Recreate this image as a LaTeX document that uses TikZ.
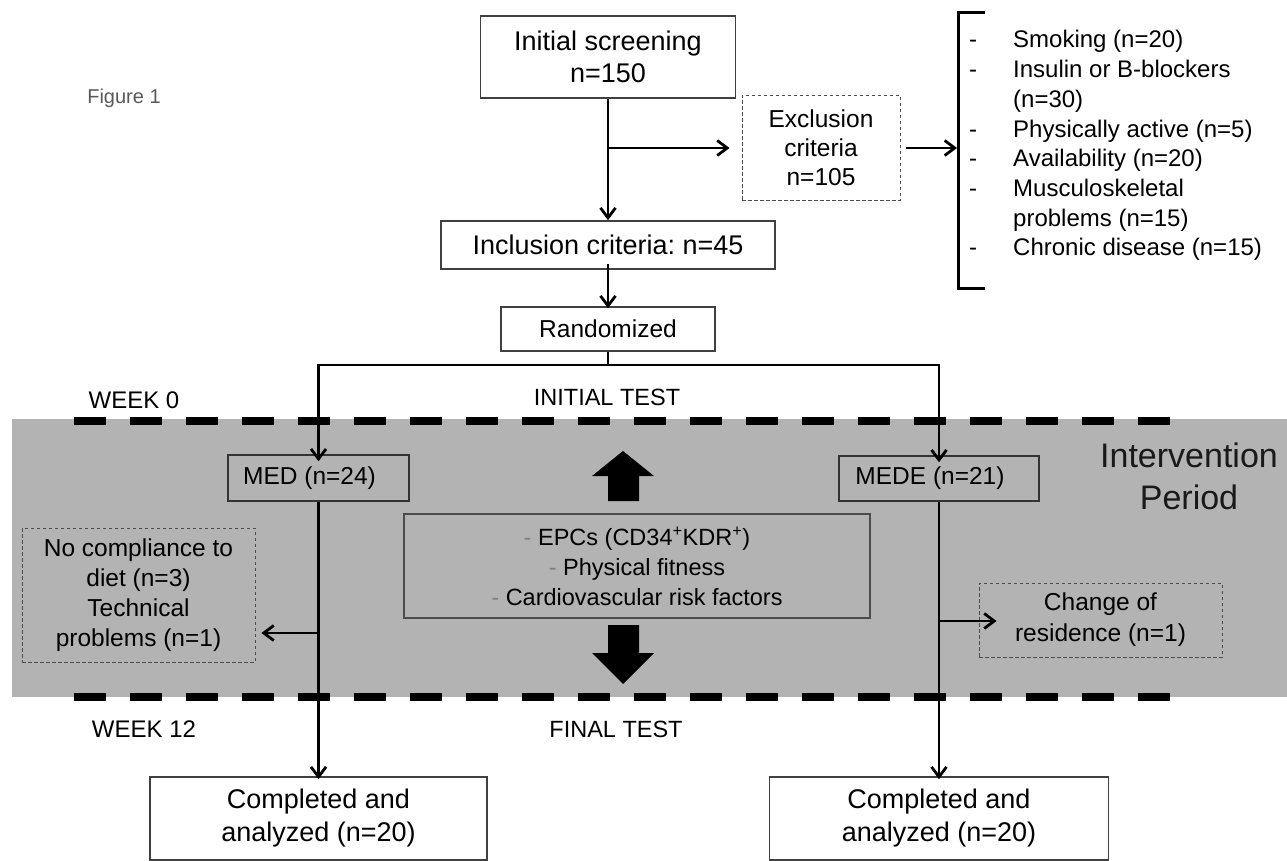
\documentclass[tikz,border=0pt]{standalone}
\usepackage{fontspec}
\setmainfont{Liberation Sans}
\usetikzlibrary{arrows.meta,calc}
\definecolor{graybg}{RGB}{179,179,179}
\frenchspacing
\begin{document}
\begin{tikzpicture}[x=1pt,y=-1pt,
  box/.style={draw=black!75, line width=1.6pt, fill=white, align=center, inner sep=0pt},
  gbox/.style={draw=black!80, line width=1.5pt, align=center, inner sep=0pt},
  dbox/.style={draw=black!70, line width=0.9pt, dash pattern=on 3.5pt off 2.5pt, align=center, inner sep=0pt},
  conn/.style={line width=2.8pt, -{Straight Barb[length=10pt,width=15pt]}},
  plainline/.style={line width=2.8pt},
  bigtxt/.style={font=\fontsize{27}{32}\selectfont},
  medtxt/.style={font=\fontsize{24.5}{30}\selectfont},
  wkline/.style={line width=8pt, dash pattern=on 32pt off 24pt},
  lbl/.style={font=\fontsize{24}{28}\selectfont, inner sep=0pt}
]
\useasboundingbox (0,0) rectangle (1287,861);
\fill[white] (0,0) rectangle (1287,861);
\fill[graybg] (12,419) rectangle (1287,697);
\draw[wkline] (74,421) -- (1172,421);
\draw[wkline] (74,697) -- (1172,697);

% texts
\node[text=black!65, font=\fontsize{20}{24}\selectfont] (fig) at (124,98) {Figure 1};
\node[lbl] (w0) at (134,400) {WEEK 0};
\node[lbl] (w12) at (144,729) {WEEK 12};
\node[lbl, font=\fontsize{23.5}{28}\selectfont] (it) at (607,397) {INITIAL TEST};
\node[lbl, font=\fontsize{23.5}{28}\selectfont] (ft) at (616,729) {FINAL TEST};
\node[font=\fontsize{34}{42}\selectfont, align=center, text=black!90] (iv) at (1189,476) {Intervention\\Period};

% boxes
\node[box, bigtxt, minimum width=255pt, minimum height=82pt] (init) at (608,57) {Initial screening\\n=150};
\node[box, bigtxt, minimum width=334pt, minimum height=48pt] (incl) at (608,245) {Inclusion criteria: n=45};
\node[dbox, medtxt, font=\fontsize{24.5}{29}\selectfont, minimum width=158pt, minimum height=105pt] (excl) at (821,148) {Exclusion\\criteria\\n=105};
\node[box, medtxt, minimum width=214pt, minimum height=44pt] (rand) at (608,329) {Randomized};
\node[gbox, medtxt, minimum width=181pt, minimum height=46pt] (med) at (318.5,478) {MED (n=24)\hspace*{18pt}};
\node[gbox, medtxt, minimum width=200pt, minimum height=45pt] (mede) at (939,478.5) {MEDE (n=21)\hspace*{18pt}};
\node[gbox, draw=black!70, font=\fontsize{23.5}{30}\selectfont, minimum width=466pt, minimum height=104pt] (epc) at (637,566)
  {{\color{black!50}-} EPCs (CD34\textsuperscript{+}KDR\textsuperscript{+})\\{\color{black!50}-} Physical fitness\\{\color{black!50}-} Cardiovascular risk factors};
\node[dbox, medtxt, minimum width=233pt, minimum height=134pt] (nocomp) at (138.5,595) {No compliance to\\diet (n=3)\\Technical\\problems (n=1)};
\node[dbox, medtxt, font=\fontsize{24.5}{31}\selectfont, minimum width=243pt, minimum height=74pt] (chg) at (1100.5,620) {Change of\\residence (n=1)};
\node[box, bigtxt, font=\fontsize{27}{33}\selectfont, minimum width=337pt, minimum height=83pt] (compl) at (318.5,818.5) {Completed and\\analyzed (n=20)};
\node[box, bigtxt, font=\fontsize{27}{33}\selectfont, minimum width=339pt, minimum height=83pt] (compr) at (939,818.5) {Completed and\\analyzed (n=20)};

% exclusion list
\node[anchor=west, inner sep=0pt, font=\fontsize{24}{29.7}\selectfont] (list) at (969,146)
{\begin{tabular}{@{}l@{\hspace{36pt}}l@{}}
- & Smoking (n=20)\\
- & Insulin or B-blockers\\
  & (n=30)\\
- & Physically active (n=5)\\
- & Availability (n=20)\\
- & Musculoskeletal\\
  & problems (n=15)\\
- & Chronic disease (n=15)
\end{tabular}};
\draw[line width=3pt] (985,13) -- (958,13) -- (958,288) -- (985,288);
\coordinate (brk) at (957,148);

% fat arrows
\fill[black] (623,451) -- (654,476) -- (639,476) -- (639,501) -- (608,501) -- (608,476) -- (592,476) -- cycle;
\fill[black] (608,625) -- (639,625) -- (639,653) -- (654,653) -- (623,684) -- (592,653) -- (608,653) -- cycle;

% connectors
\draw[conn] (init.south) -- (incl.north);
\coordinate (b1) at (608,148);
\draw[conn] (b1) -- ([xshift=-12pt]excl.west);
\draw[conn] ([xshift=6pt]excl.east) -- (brk);
\draw[conn] ([yshift=6pt]incl.south) -- ([yshift=-2pt]rand.north);
\coordinate (sl) at (318.5,365);
\coordinate (sr) at (939,365);
\draw[plainline] (rand.south) -- (rand.south |- sl);
\draw[plainline] ([xshift=-1.4pt]sl) -- ([xshift=1.4pt]sr);
\draw[conn] (sl) -- ([yshift=-7pt]med.north);
\draw[conn] (sr) -- ([yshift=-7pt]mede.north);
\draw[conn] (med.south) -- ([yshift=-3pt]compl.north);
\coordinate (mb) at (318.5,633);
\draw[conn] (mb) -- ([xshift=6pt]nocomp.east |- mb);
\draw[conn] (mede.south) -- ([yshift=-3pt]compr.north);
\coordinate (rb) at (939,621);
\draw[conn] (rb) -- ([xshift=18pt]chg.west |- rb);
\end{tikzpicture}
\end{document}
